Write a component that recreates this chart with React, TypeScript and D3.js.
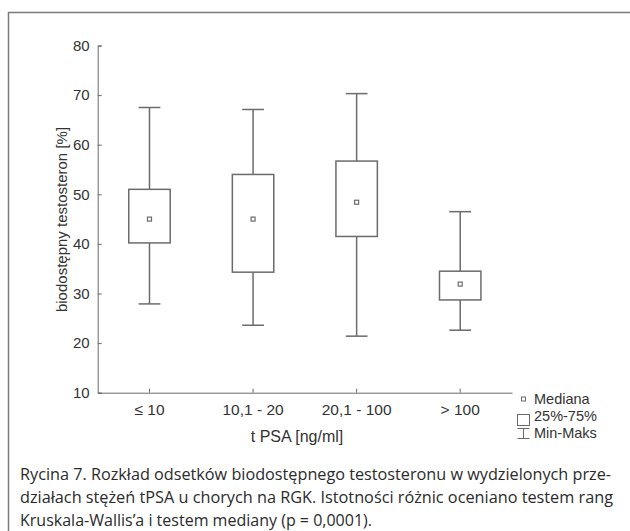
import { useEffect, useRef } from "react";
import * as d3 from "d3";

const categories = ["≤ 10", "10,1 - 20", "20,1 - 100", "> 100"];
const minValues = [27.9, 23.6, 21.4, 22.6];
const q1Values = [40.2, 34.3, 41.5, 28.7];
const medianValues = [45.0, 45.0, 48.4, 31.9];
const q3Values = [51.0, 54.0, 56.7, 34.5];
const maxValues = [67.5, 67.1, 70.3, 46.5];
const yTicks = [10, 20, 30, 40, 50, 60, 70, 80];

const captionLines = [
  "Rycina 7. Rozkład odsetków biodostępnego testosteronu w wydzielonych prze-",
  "działach stężeń tPSA u chorych na RGK. Istotności różnic oceniano testem rang",
  "Kruskala-Wallis’a i testem mediany (p = 0,0001).",
];
const captionWidths = [591, 593, 352];

const App = () => {
  const ref = useRef<SVGSVGElement>(null);

  useEffect(() => {
    const svg = d3.select(ref.current);
    svg.selectAll("*").remove();

    const lineColor = "#6b6b6b";
    const textColor = "#333";
    const font = "'Liberation Sans', Arimo, Arial, sans-serif";

    svg.append("rect")
      .attr("width", 630).attr("height", 531).attr("fill", "#fff");

    // outer frame
    svg.append("rect")
      .attr("x", 8.5).attr("y", 12.5)
      .attr("width", 640).attr("height", 540)
      .attr("fill", "none")
      .attr("stroke", "#7a7a7a")
      .attr("stroke-width", 1.5);

    const x = d3.scaleBand()
      .domain(categories)
      .range([97.7, 512]);
    const y = d3.scaleLinear()
      .domain([10, 80])
      .range([392.7, 45.5]);

    const yAxis = svg.append("g")
      .attr("transform", "translate(97.7,0)")
      .call(d3.axisLeft(y).tickValues(yTicks).tickSize(-4).tickPadding(8));
    yAxis.attr("font-family", null);
    yAxis.select(".domain").attr("stroke", lineColor);
    yAxis.selectAll("line").attr("stroke", lineColor);
    yAxis.selectAll("text")
      .attr("fill", textColor)
      .style("font-family", font)
      .style("font-size", "15px");

    const xAxis = svg.append("g")
      .attr("transform", "translate(0,392.7)")
      .call(d3.axisBottom(x).tickSize(-4).tickSizeOuter(0).tickPadding(11));
    xAxis.attr("font-family", null);
    xAxis.select(".domain").attr("stroke", lineColor);
    xAxis.selectAll("line").attr("stroke", lineColor);
    xAxis.selectAll("text")
      .attr("fill", textColor)
      .style("font-family", font)
      .style("font-size", "15.5px");

    svg.append("text")
      .attr("transform", "translate(67,219.5) rotate(-90)")
      .attr("text-anchor", "middle")
      .attr("fill", textColor)
      .style("font-family", font)
      .style("font-size", "15px")
      .text("biodostępny testosteron [%]");

    svg.append("text")
      .attr("x", 297).attr("y", 442)
      .attr("text-anchor", "middle")
      .attr("fill", textColor)
      .style("font-family", font)
      .style("font-size", "16px")
      .text("t PSA [ng/ml]");

    const boxW = x.bandwidth() * 0.4;
    const capW = x.bandwidth() * 0.21;

    categories.forEach((c, i) => {
      const cx = (x(c) as number) + x.bandwidth() / 2;
      const g = svg.append("g")
        .attr("stroke", lineColor)
        .attr("stroke-width", 1.5)
        .attr("fill", "none");
      g.append("line")
        .attr("x1", cx).attr("x2", cx)
        .attr("y1", y(maxValues[i])).attr("y2", y(q3Values[i]));
      g.append("line")
        .attr("x1", cx).attr("x2", cx)
        .attr("y1", y(q1Values[i])).attr("y2", y(minValues[i]));
      g.append("line")
        .attr("x1", cx - capW / 2).attr("x2", cx + capW / 2)
        .attr("y1", y(maxValues[i])).attr("y2", y(maxValues[i]));
      g.append("line")
        .attr("x1", cx - capW / 2).attr("x2", cx + capW / 2)
        .attr("y1", y(minValues[i])).attr("y2", y(minValues[i]));
      g.append("rect")
        .attr("x", cx - boxW / 2)
        .attr("y", y(q3Values[i]))
        .attr("width", boxW)
        .attr("height", y(q1Values[i]) - y(q3Values[i]));
      g.append("rect")
        .attr("x", cx - 2).attr("y", y(medianValues[i]) - 2)
        .attr("width", 4).attr("height", 4)
        .attr("stroke-width", 1.2);
    });

    // legend
    const lg = svg.append("g");
    lg.append("rect")
      .attr("x", 521.5).attr("y", 397)
      .attr("width", 4).attr("height", 4)
      .attr("fill", "none").attr("stroke", lineColor);
    lg.append("rect")
      .attr("x", 517.5).attr("y", 414.5)
      .attr("width", 12).attr("height", 11)
      .attr("fill", "none").attr("stroke", lineColor);
    lg.append("path")
      .attr("d", "M517.5,428.5H529.5M523.5,428.5V438.5M517.5,438.5H529.5")
      .attr("fill", "none").attr("stroke", lineColor);
    const legendLabels = ["Mediana", "25%-75%", "Min-Maks"];
    legendLabels.forEach((t, i) => {
      lg.append("text")
        .attr("x", 534)
        .attr("y", 399 + i * 17)
        .attr("dy", "0.35em")
        .attr("fill", textColor)
        .style("font-family", font)
        .style("font-size", "14.5px")
        .text(t);
    });

    // caption
    captionLines.forEach((t, i) => {
      svg.append("text")
        .attr("x", 20)
        .attr("y", 480 + i * 23)
        .attr("fill", "#2b2b2b")
        .style("font-family", "'Liberation Sans Narrow', 'Open Sans', sans-serif")
        .style("font-size", "16px")
        .attr("textLength", captionWidths[i])
        .attr("lengthAdjust", "spacingAndGlyphs")
        .text(t);
    });
  });

  return (
    <svg
      ref={ref}
      width={630}
      height={531}
      style={{ position: "absolute", left: 0, top: 0, display: "block" }}
    />
  );
};

export default App;
